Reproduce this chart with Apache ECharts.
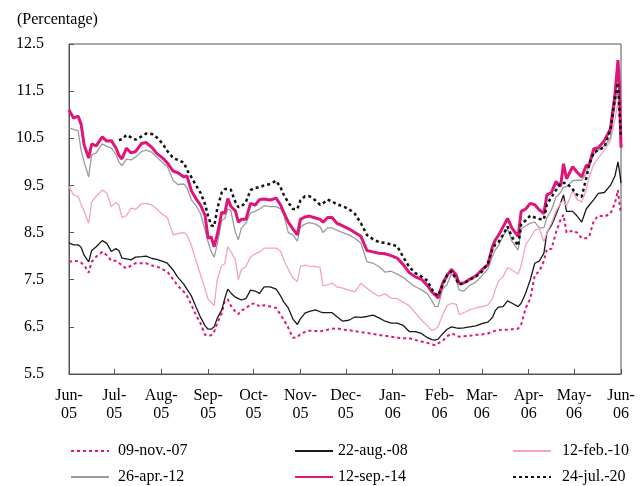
<!DOCTYPE html>
<html>
<head>
<meta charset="utf-8">
<script src="https://cdn.jsdelivr.net/npm/echarts@6/dist/echarts.min.js"></script>
<style>
  html, body { margin: 0; padding: 0; background: #fff; }
  #chart { width: 642px; height: 486px; }
</style>
</head>
<body>
<div id="chart"></div>
<script>
// sample dates
var dates = [
  '2005-06-01','2005-06-04','2005-06-07','2005-06-09','2005-06-11','2005-06-14','2005-06-16','2005-06-19','2005-06-23','2005-06-26',
  '2005-06-29','2005-07-02','2005-07-04','2005-07-06','2005-07-09','2005-07-12','2005-07-15','2005-07-19','2005-07-22','2005-07-26',
  '2005-07-29','2005-08-02','2005-08-05','2005-08-09','2005-08-12','2005-08-16','2005-08-18','2005-08-21','2005-08-24','2005-08-27',
  '2005-08-30','2005-09-01','2005-09-03','2005-09-05','2005-09-07','2005-09-10','2005-09-12','2005-09-14','2005-09-16','2005-09-19',
  '2005-09-21','2005-09-23','2005-09-26','2005-09-29','2005-10-02','2005-10-05','2005-10-08','2005-10-12','2005-10-16','2005-10-19',
  '2005-10-21','2005-10-24','2005-10-27','2005-10-30','2005-11-01','2005-11-04','2005-11-07','2005-11-11','2005-11-14','2005-11-16',
  '2005-11-19','2005-11-22','2005-11-25','2005-11-29','2005-12-03','2005-12-07','2005-12-11','2005-12-15','2005-12-19','2005-12-23',
  '2005-12-27','2005-12-31','2006-01-04','2006-01-08','2006-01-12','2006-01-16','2006-01-20','2006-01-24','2006-01-27','2006-01-29',
  '2006-01-31','2006-02-03','2006-02-06','2006-02-09','2006-02-12','2006-02-14','2006-02-17','2006-02-21','2006-02-25','2006-03-01',
  '2006-03-05','2006-03-08','2006-03-10','2006-03-12','2006-03-15','2006-03-18','2006-03-21','2006-03-25','2006-03-27','2006-03-30',
  '2006-04-02','2006-04-05','2006-04-08','2006-04-11','2006-04-13','2006-04-16','2006-04-19','2006-04-22','2006-04-24','2006-04-26',
  '2006-04-30','2006-05-03','2006-05-06','2006-05-09','2006-05-11','2006-05-14','2006-05-17','2006-05-21','2006-05-25','2006-05-28',
  '2006-05-30','2006-05-31','2006-06-01'
];

var nov07 = [
  7.88,7.90,7.89,7.86,7.81,7.65,7.88,7.99,8.09,8.02,
  7.90,7.90,7.86,7.80,7.74,7.80,7.85,7.85,7.85,7.80,
  7.78,7.72,7.67,7.50,7.37,7.24,7.16,6.96,6.75,6.57,
  6.33,6.31,6.32,6.40,6.58,6.79,7.05,7.08,6.95,6.82,
  6.77,6.85,6.89,6.98,7.00,6.93,6.96,6.93,6.90,6.75,
  6.65,6.48,6.27,6.28,6.35,6.39,6.42,6.41,6.40,6.42,
  6.44,6.46,6.47,6.44,6.43,6.41,6.39,6.37,6.35,6.33,
  6.31,6.29,6.27,6.26,6.26,6.22,6.19,6.16,6.13,6.11,
  6.15,6.20,6.30,6.36,6.32,6.29,6.30,6.31,6.33,6.34,
  6.36,6.40,6.42,6.43,6.44,6.44,6.45,6.46,6.55,6.90,
  7.10,7.60,7.68,7.90,8.15,8.15,8.50,8.77,8.88,8.50,
  8.54,8.50,8.38,8.38,8.42,8.75,8.86,8.84,8.90,9.12,
  9.40,9.10,8.90
];
var aug08 = [
  8.28,8.24,8.24,8.19,8.02,7.88,8.12,8.20,8.33,8.27,
  8.10,8.16,8.12,7.96,7.94,7.92,7.98,7.99,8.00,7.95,
  7.93,7.89,7.85,7.70,7.55,7.40,7.30,7.15,6.92,6.70,
  6.52,6.45,6.45,6.50,6.68,6.86,7.10,7.30,7.22,7.13,
  7.10,7.07,7.10,7.28,7.26,7.21,7.35,7.35,7.30,7.15,
  7.03,6.90,6.67,6.55,6.67,6.79,6.83,6.86,6.82,6.80,
  6.80,6.80,6.72,6.62,6.64,6.71,6.70,6.72,6.75,6.69,
  6.62,6.58,6.58,6.53,6.40,6.40,6.36,6.27,6.23,6.22,
  6.24,6.35,6.45,6.50,6.48,6.47,6.48,6.50,6.52,6.57,
  6.60,6.70,6.85,6.92,6.93,7.05,7.00,6.93,7.00,7.22,
  7.50,7.85,7.90,8.06,8.50,8.65,8.88,9.12,9.30,8.95,
  8.95,8.85,8.72,9.00,9.08,9.20,9.33,9.35,9.50,9.70,
  10.00,9.80,9.55
];
var feb10 = [
  9.47,9.30,9.27,9.10,8.95,8.70,9.15,9.27,9.40,9.34,
  9.05,9.14,9.08,8.82,8.86,9.02,8.99,9.11,9.12,9.08,
  9.00,8.88,8.82,8.45,8.48,8.50,8.45,8.22,7.90,7.60,
  7.30,7.08,7.02,6.95,7.50,7.80,7.84,8.20,8.10,7.92,
  7.50,7.72,7.78,7.98,8.05,8.09,8.17,8.17,8.17,8.10,
  7.92,7.72,7.54,7.46,7.78,7.81,7.79,7.78,7.76,7.37,
  7.39,7.43,7.35,7.32,7.28,7.24,7.42,7.32,7.22,7.15,
  7.20,7.11,7.10,7.02,6.95,6.80,6.65,6.52,6.42,6.45,
  6.50,6.75,6.95,7.00,6.98,6.76,6.80,6.86,6.90,6.93,
  6.96,7.10,7.30,7.47,7.56,7.76,7.70,7.62,7.80,8.25,
  8.38,8.55,8.58,8.31,8.50,8.70,8.95,9.12,9.18,9.06,
  9.38,9.20,9.15,9.40,9.68,9.95,10.08,10.25,10.45,10.90,
  11.28,10.90,10.30
];
var apr12 = [
  10.72,10.69,10.66,10.25,10.00,9.68,10.15,10.19,10.38,10.33,
  10.29,10.16,10.00,9.92,10.06,10.04,10.10,10.22,10.25,10.20,
  10.10,9.98,9.90,9.60,9.52,9.53,9.45,9.19,9.07,8.90,
  8.55,8.30,8.10,7.98,8.25,8.76,8.80,9.00,8.97,8.50,
  8.35,8.60,8.70,8.92,8.95,9.00,9.07,9.05,9.05,9.00,
  8.88,8.50,8.45,8.32,8.62,8.68,8.71,8.68,8.62,8.50,
  8.60,8.60,8.55,8.50,8.45,8.38,8.28,7.88,7.85,7.78,
  7.66,7.68,7.62,7.55,7.44,7.35,7.29,7.20,7.05,6.93,
  6.93,7.30,7.40,7.63,7.50,7.28,7.26,7.38,7.45,7.58,
  7.73,8.00,8.14,8.22,8.43,8.58,8.31,8.13,8.58,8.64,
  8.70,8.72,8.60,8.60,8.82,8.98,9.25,9.35,9.47,9.47,
  9.60,9.61,9.61,9.75,9.95,10.15,10.25,10.34,10.50,11.20,
  11.52,11.20,10.82
];
var sep14 = [
  11.10,10.93,10.97,10.80,10.36,10.08,10.38,10.34,10.53,10.44,
  10.45,10.30,10.14,10.06,10.29,10.19,10.22,10.39,10.41,10.30,
  10.18,10.08,9.98,9.80,9.77,9.68,9.70,9.38,9.22,9.08,
  8.86,8.38,8.41,8.20,8.45,8.93,8.91,9.22,9.06,8.96,
  8.72,8.78,8.78,9.12,9.08,9.20,9.21,9.19,9.23,9.08,
  8.93,8.72,8.58,8.45,8.78,8.83,8.85,8.81,8.78,8.72,
  8.82,8.82,8.70,8.64,8.58,8.50,8.42,8.12,8.09,8.06,
  8.05,8.01,7.96,7.82,7.65,7.56,7.51,7.38,7.24,7.18,
  7.11,7.42,7.59,7.72,7.60,7.42,7.43,7.51,7.58,7.71,
  7.82,8.20,8.35,8.44,8.62,8.80,8.59,8.42,8.95,9.00,
  9.12,9.09,8.98,8.90,9.30,9.35,9.58,9.48,9.96,9.64,
  9.90,9.78,9.68,9.92,9.94,10.28,10.30,10.45,10.70,11.43,
  12.16,11.60,10.30
];
var jul20 = [
  null,null,null,null,null,null,null,null,null,null,
  null,null,10.46,10.48,10.57,10.52,10.47,10.54,10.60,10.59,
  10.52,10.38,10.23,10.08,10.04,9.98,9.83,9.67,9.50,9.34,
  9.10,8.85,8.66,8.63,9.00,9.35,9.42,9.43,9.41,9.15,
  9.04,9.05,9.15,9.40,9.45,9.46,9.50,9.53,9.60,9.45,
  9.30,9.14,9.00,9.00,9.18,9.27,9.27,9.18,9.09,9.12,
  9.20,9.16,9.10,9.06,9.00,8.90,8.70,8.45,8.36,8.30,
  8.28,8.25,8.21,7.98,7.77,7.64,7.57,7.48,7.29,7.21,
  7.16,7.38,7.60,7.68,7.51,7.40,7.42,7.50,7.57,7.67,
  7.85,8.15,8.25,8.30,8.45,8.63,8.40,8.22,8.68,8.76,
  8.86,8.82,8.79,8.78,9.10,9.25,9.40,9.55,9.55,9.55,
  9.42,9.30,9.26,9.65,9.95,10.20,10.25,10.31,10.68,11.36,
  11.68,11.10,10.50
];

var monthNames = ['Jan','Feb','Mar','Apr','May','Jun','Jul','Aug','Sep','Oct','Nov','Dec'];
var yTicks = [5.5, 6.5, 7.5, 8.5, 9.5, 10.5, 11.5, 12.5];

// every day of the axis, so month ticks fall where they should
var allDays = [];
for (var t = Date.UTC(2005, 5, 1); t <= Date.UTC(2006, 5, 1); t += 86400000) {
  allDays.push(new Date(t).toISOString().slice(0, 10));
}

var font = "'Liberation Serif', 'Times New Roman', serif";
var isMonthStart = function (i, v) { return v.slice(8) === '01'; };

function pairs(vals) {
  return dates.map(function (d, i) { return [d, vals[i]]; });
}
function line(name, vals, color, width, type) {
  return {
    name: name,
    type: 'line',
    data: pairs(vals),
    symbol: 'none',
    lineStyle: { color: color, width: width, type: type },
    itemStyle: { color: color }
  };
}

function legendCol(left, names, textPad) {
  return {
    orient: 'vertical',
    left: left,
    top: 443,
    padding: 0,
    itemWidth: 38,
    itemHeight: 14,
    itemGap: 10,
    itemStyle: { opacity: 0 },
    data: names,
    textStyle: { fontFamily: font, fontSize: 16, color: '#000', padding: [0, 0, 0, textPad] }
  };
}

var chart = echarts.init(document.getElementById('chart'));

chart.setOption({
  animation: false,
  title: {
    text: '(Percentage)',
    left: 12,
    top: 7,
    textStyle: { fontFamily: font, fontSize: 16, fontWeight: 'normal', color: '#000' }
  },
  legend: [
    legendCol(70, ['09-nov.-07', '26-apr.-12'], 4),
    legendCol(294, ['22-aug.-08', '12-sep.-14'], 0),
    legendCol(512, ['12-feb.-10', '24-jul.-20'], 6)
  ],
  grid: {
    left: 69, right: 21, top: 44, bottom: 112,
    show: true, borderColor: '#555', borderWidth: 1
  },
  xAxis: {
    type: 'category',
    data: allDays,
    boundaryGap: false,
    axisLine: { lineStyle: { color: '#555' } },
    axisTick: { inside: true, length: 5, interval: isMonthStart, lineStyle: { color: '#555' } },
    axisLabel: {
      interval: isMonthStart,
      margin: 13,
      lineHeight: 18,
      fontFamily: font, fontSize: 16, color: '#000',
      formatter: function (v) {
        return monthNames[+v.slice(5, 7) - 1] + '-\n' + v.slice(2, 4);
      }
    },
    splitLine: { show: false }
  },
  yAxis: {
    type: 'value',
    min: 5.5,
    max: 12.5,
    axisLine: { show: true, lineStyle: { color: '#555' } },
    axisTick: { show: true, inside: true, length: 5, customValues: yTicks, lineStyle: { color: '#555' } },
    axisLabel: {
      customValues: yTicks,
      margin: 25,
      fontFamily: font, fontSize: 16, color: '#000',
      formatter: function (v) { return v.toFixed(1); }
    },
    splitLine: { show: false }
  },
  series: [
    line('09-nov.-07', nov07, '#e0157a', 2, [3, 3]),
    line('22-aug.-08', aug08, '#1a1a1a', 1.3, 'solid'),
    line('12-feb.-10', feb10, '#f4a3c3', 1.3, 'solid'),
    line('26-apr.-12', apr12, '#9b9b9b', 1.3, 'solid'),
    line('12-sep.-14', sep14, '#e0157a', 3, 'solid'),
    line('24-jul.-20', jul20, '#111111', 2.5, [3, 3])
  ]
});
</script>
</body>
</html>
